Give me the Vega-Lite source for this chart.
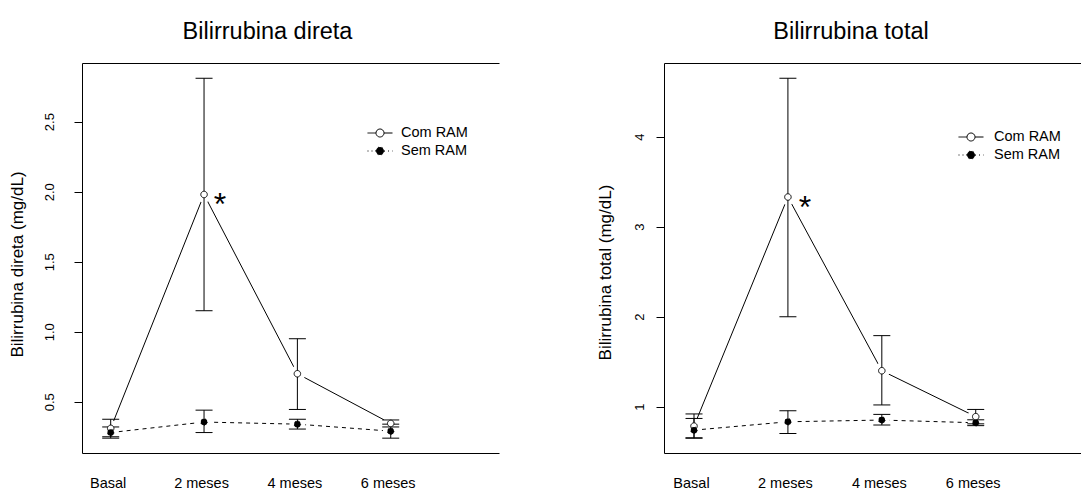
{
  "$schema": "https://vega.github.io/schema/vega-lite/v6.json",
  "padding": {"left": 8, "top": 19, "right": 0, "bottom": 0},
  "bounds": "flush",
  "spacing": 165,
  "resolve": {"scale": {"fill": "independent", "strokeDash": "independent"}, "legend": {"fill": "independent", "strokeDash": "independent"}},
  "datasets": {
    "direta": [
      {"t": 1, "grupo": "Com RAM", "media": 0.31, "lo": 0.25, "hi": 0.375, "sig": ""},
      {"t": 2, "grupo": "Com RAM", "media": 1.98, "lo": 1.15, "hi": 2.81, "sig": "*"},
      {"t": 3, "grupo": "Com RAM", "media": 0.70, "lo": 0.445, "hi": 0.95, "sig": ""},
      {"t": 4, "grupo": "Com RAM", "media": 0.345, "lo": 0.32, "hi": 0.37, "sig": ""},
      {"t": 1, "grupo": "Sem RAM", "media": 0.28, "lo": 0.24, "hi": 0.32, "sig": ""},
      {"t": 2, "grupo": "Sem RAM", "media": 0.355, "lo": 0.28, "hi": 0.44, "sig": ""},
      {"t": 3, "grupo": "Sem RAM", "media": 0.34, "lo": 0.305, "hi": 0.375, "sig": ""},
      {"t": 4, "grupo": "Sem RAM", "media": 0.29, "lo": 0.24, "hi": 0.34, "sig": ""}
    ],
    "total": [
      {"t": 1, "grupo": "Com RAM", "media": 0.785, "lo": 0.655, "hi": 0.92, "sig": ""},
      {"t": 2, "grupo": "Com RAM", "media": 3.33, "lo": 2.0, "hi": 4.65, "sig": "*"},
      {"t": 3, "grupo": "Com RAM", "media": 1.40, "lo": 1.02, "hi": 1.79, "sig": ""},
      {"t": 4, "grupo": "Com RAM", "media": 0.89, "lo": 0.81, "hi": 0.97, "sig": ""},
      {"t": 1, "grupo": "Sem RAM", "media": 0.74, "lo": 0.65, "hi": 0.87, "sig": ""},
      {"t": 2, "grupo": "Sem RAM", "media": 0.833, "lo": 0.704, "hi": 0.956, "sig": ""},
      {"t": 3, "grupo": "Sem RAM", "media": 0.852, "lo": 0.797, "hi": 0.915, "sig": ""},
      {"t": 4, "grupo": "Sem RAM", "media": 0.822, "lo": 0.79, "hi": 0.855, "sig": ""}
    ]
  },
  "hconcat": [
    {
      "width": 417,
      "height": 390,
      "data": {"name": "direta"},
      "title": {"text": "Bilirrubina direta", "font": "Liberation Sans", "fontSize": 23.5, "fontWeight": "normal", "color": "black", "anchor": "middle", "baseline": "alphabetic", "offset": 1, "dx": -23},
      "resolve": {"axis": {"x": "independent"}},
      "layer": [
        {
          "transform": [{"filter": "datum.grupo === 'Com RAM'"}],
          "mark": {"type": "line", "color": "black", "strokeWidth": 1},
          "encoding": {
            "x": {"field": "t", "type": "quantitative", "scale": {"domain": [0.6925, 5.16], "nice": false, "zero": false},
              "axis": {"orient": "bottom", "values": [1, 2, 3, 4], "labelExpr": "datum.value == 1 ? 'Basal' : ((datum.value - 1) * 2) + ' meses'", "ticks": false, "domain": true, "domainColor": "black", "domainWidth": 1, "grid": false, "title": null, "labelPadding": 23, "labelFontSize": 14.5, "labelColor": "black", "labelBaseline": "top", "labelOffset": -3, "labelFlush": false, "labelOverlap": false}},
            "y": {"field": "media", "type": "quantitative", "scale": {"domain": [0.134, 2.919], "nice": false, "zero": false},
              "axis": {"values": [0.5, 1, 1.5, 2, 2.5], "format": ".1f", "domain": true, "domainColor": "black", "domainWidth": 1, "tickColor": "black", "tickSize": 8, "grid": false, "labelAngle": -90, "labelAlign": "center", "labelBaseline": "middle", "labelPadding": 25, "labelFontSize": 13, "labelColor": "black", "labelFlush": false, "labelOverlap": false, "title": "Bilirrubina direta (mg/dL)", "titleFontSize": 17, "titleFontWeight": "normal", "titleColor": "black", "titleAngle": -90, "titleX": -65, "titleY": 201, "titleAlign": "center", "titleBaseline": "middle"}}
          }
        },
        {
          "transform": [{"filter": "datum.grupo === 'Sem RAM'"}],
          "mark": {"type": "line", "color": "black", "strokeWidth": 1, "strokeDash": [4, 4]},
          "encoding": {
            "x": {"field": "t", "type": "quantitative", "axis": {"orient": "top", "labels": false, "ticks": false, "domain": true, "domainColor": "black", "domainWidth": 1, "grid": false, "title": null}},
            "y": {"field": "media", "type": "quantitative"}
          }
        },
        {
          "mark": {"type": "point", "shape": "circle", "filled": true, "fill": "white", "stroke": null, "fillOpacity": 1, "opacity": 1, "size": 254},
          "encoding": {
            "x": {"field": "t", "type": "quantitative", "axis": null},
            "y": {"field": "media", "type": "quantitative"}
          }
        },
        {
          "mark": {"type": "rule", "color": "black", "strokeWidth": 1},
          "encoding": {
            "x": {"field": "t", "type": "quantitative", "axis": null},
            "y": {"field": "lo", "type": "quantitative"},
            "y2": {"field": "hi"}
          }
        },
        {
          "mark": {"type": "tick", "orient": "horizontal", "color": "black", "size": 17, "thickness": 1, "opacity": 1},
          "encoding": {
            "x": {"field": "t", "type": "quantitative", "axis": null},
            "y": {"field": "lo", "type": "quantitative"}
          }
        },
        {
          "mark": {"type": "tick", "orient": "horizontal", "color": "black", "size": 17, "thickness": 1, "opacity": 1},
          "encoding": {
            "x": {"field": "t", "type": "quantitative", "axis": null},
            "y": {"field": "hi", "type": "quantitative"}
          }
        },
        {
          "mark": {"type": "point", "shape": "circle", "filled": true, "stroke": "black", "strokeWidth": 1, "opacity": 1, "size": 42},
          "encoding": {
            "x": {"field": "t", "type": "quantitative", "axis": null},
            "y": {"field": "media", "type": "quantitative"},
            "fill": {"field": "grupo", "type": "nominal", "scale": {"domain": ["Com RAM", "Sem RAM"], "range": ["white", "black"]},
              "legend": {"orient": "none", "legendX": 285, "legendY": 62, "title": null, "padding": 0, "symbolType": "M-1,0L-0.32,0M0.32,0L1,0M-0.32,0A0.32,0.32,0,1,1,0.32,0A0.32,0.32,0,1,1,-0.32,0", "symbolSize": 625, "symbolStrokeColor": "black", "symbolStrokeWidth": 1, "labelFontSize": 14.5, "labelColor": "black", "labelOffset": 8, "clipHeight": 16, "rowPadding": 2}},
            "strokeDash": {"field": "grupo", "type": "nominal", "scale": {"domain": ["Com RAM", "Sem RAM"], "range": [[1, 0], [1, 3]]}}
          }
        },
        {
          "mark": {"type": "text", "fontSize": 32, "dx": 16, "dy": 11, "align": "center", "baseline": "middle", "color": "black"},
          "encoding": {
            "x": {"field": "t", "type": "quantitative", "axis": null},
            "y": {"field": "media", "type": "quantitative"},
            "text": {"field": "sig"}
          }
        }
      ]
    },
    {
      "width": 440,
      "height": 390,
      "data": {"name": "total"},
      "title": {"text": "Bilirrubina total", "font": "Liberation Sans", "fontSize": 23.5, "fontWeight": "normal", "color": "black", "anchor": "middle", "baseline": "alphabetic", "offset": 1, "dx": -33},
      "resolve": {"axis": {"x": "independent"}},
      "layer": [
        {
          "transform": [{"filter": "datum.grupo === 'Com RAM'"}],
          "mark": {"type": "line", "color": "black", "strokeWidth": 1},
          "encoding": {
            "x": {"field": "t", "type": "quantitative", "scale": {"domain": [0.6805, 5.366], "nice": false, "zero": false},
              "axis": {"orient": "bottom", "values": [1, 2, 3, 4], "labelExpr": "datum.value == 1 ? 'Basal' : ((datum.value - 1) * 2) + ' meses'", "ticks": false, "domain": true, "domainColor": "black", "domainWidth": 1, "grid": false, "title": null, "labelPadding": 23, "labelFontSize": 14.5, "labelColor": "black", "labelBaseline": "top", "labelOffset": -3, "labelFlush": false, "labelOverlap": false}},
            "y": {"field": "media", "type": "quantitative", "scale": {"domain": [0.486, 4.819], "nice": false, "zero": false},
              "axis": {"values": [1, 2, 3, 4], "format": "d", "domain": true, "domainColor": "black", "domainWidth": 1, "tickColor": "black", "tickSize": 8, "grid": false, "labelAngle": -90, "labelAlign": "center", "labelBaseline": "middle", "labelPadding": 17, "labelFontSize": 13, "labelColor": "black", "labelFlush": false, "labelOverlap": false, "title": "Bilirrubina total (mg/dL)", "titleFontSize": 17, "titleFontWeight": "normal", "titleColor": "black", "titleAngle": -90, "titleX": -59, "titleY": 209, "titleAlign": "center", "titleBaseline": "middle"}}
          }
        },
        {
          "transform": [{"filter": "datum.grupo === 'Sem RAM'"}],
          "mark": {"type": "line", "color": "black", "strokeWidth": 1, "strokeDash": [4, 4]},
          "encoding": {
            "x": {"field": "t", "type": "quantitative", "axis": {"orient": "top", "labels": false, "ticks": false, "domain": true, "domainColor": "black", "domainWidth": 1, "grid": false, "title": null}},
            "y": {"field": "media", "type": "quantitative"}
          }
        },
        {
          "mark": {"type": "point", "shape": "circle", "filled": true, "fill": "white", "stroke": null, "fillOpacity": 1, "opacity": 1, "size": 254},
          "encoding": {
            "x": {"field": "t", "type": "quantitative", "axis": null},
            "y": {"field": "media", "type": "quantitative"}
          }
        },
        {
          "mark": {"type": "rule", "color": "black", "strokeWidth": 1},
          "encoding": {
            "x": {"field": "t", "type": "quantitative", "axis": null},
            "y": {"field": "lo", "type": "quantitative"},
            "y2": {"field": "hi"}
          }
        },
        {
          "mark": {"type": "tick", "orient": "horizontal", "color": "black", "size": 17, "thickness": 1, "opacity": 1},
          "encoding": {
            "x": {"field": "t", "type": "quantitative", "axis": null},
            "y": {"field": "lo", "type": "quantitative"}
          }
        },
        {
          "mark": {"type": "tick", "orient": "horizontal", "color": "black", "size": 17, "thickness": 1, "opacity": 1},
          "encoding": {
            "x": {"field": "t", "type": "quantitative", "axis": null},
            "y": {"field": "hi", "type": "quantitative"}
          }
        },
        {
          "mark": {"type": "point", "shape": "circle", "filled": true, "stroke": "black", "strokeWidth": 1, "opacity": 1, "size": 42},
          "encoding": {
            "x": {"field": "t", "type": "quantitative", "axis": null},
            "y": {"field": "media", "type": "quantitative"},
            "fill": {"field": "grupo", "type": "nominal", "scale": {"domain": ["Com RAM", "Sem RAM"], "range": ["white", "black"]},
              "legend": {"orient": "none", "legendX": 294, "legendY": 66, "title": null, "padding": 0, "symbolType": "M-1,0L-0.32,0M0.32,0L1,0M-0.32,0A0.32,0.32,0,1,1,0.32,0A0.32,0.32,0,1,1,-0.32,0", "symbolSize": 625, "symbolStrokeColor": "black", "symbolStrokeWidth": 1, "labelFontSize": 14.5, "labelColor": "black", "labelOffset": 10, "clipHeight": 16, "rowPadding": 2}},
            "strokeDash": {"field": "grupo", "type": "nominal", "scale": {"domain": ["Com RAM", "Sem RAM"], "range": [[1, 0], [1, 3]]}}
          }
        },
        {
          "mark": {"type": "text", "fontSize": 32, "dx": 17, "dy": 11, "align": "center", "baseline": "middle", "color": "black"},
          "encoding": {
            "x": {"field": "t", "type": "quantitative", "axis": null},
            "y": {"field": "media", "type": "quantitative"},
            "text": {"field": "sig"}
          }
        }
      ]
    }
  ],
  "config": {
    "view": {"stroke": null},
    "font": "Liberation Sans",
    "background": "white"
  }
}
